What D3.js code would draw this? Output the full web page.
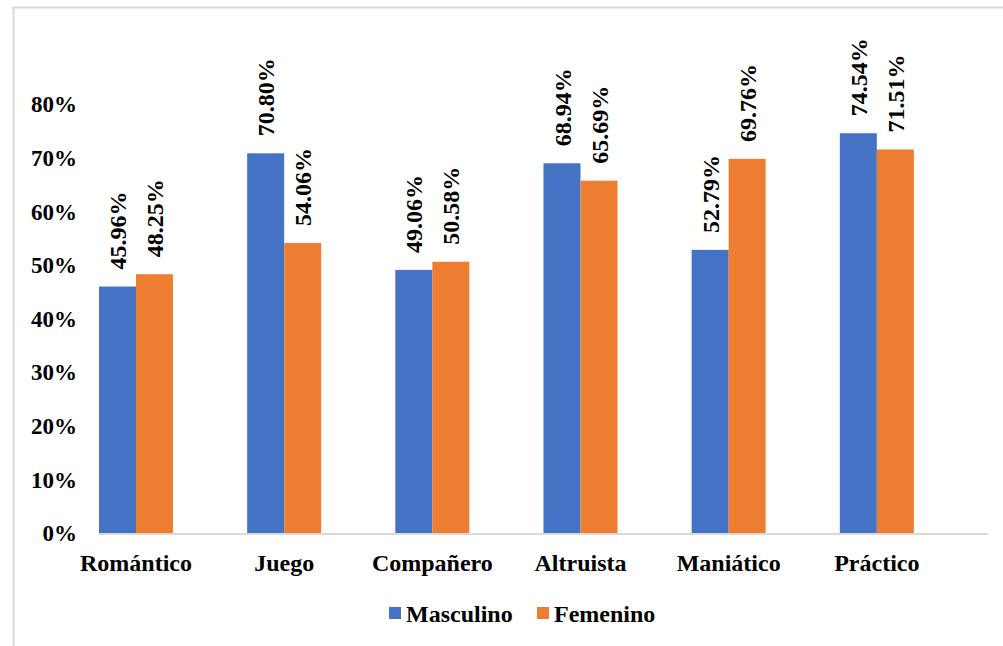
<!DOCTYPE html>
<html><head><meta charset="utf-8">
<script src="https://cdn.jsdelivr.net/npm/d3@7"></script>
<style>body{margin:0;background:#fff}svg{display:block}
svg text{font-family:"Liberation Serif","Times New Roman",serif;font-weight:bold}</style>
</head><body>
<svg id="c" width="1003" height="646"></svg>
<script>
const categories = ["Romántico","Juego","Compañero","Altruista","Maniático","Práctico"];
const seriesNames = ["Masculino","Femenino"];
const masculino = [45.96,70.80,49.06,68.94,52.79,74.54];
const femenino = [48.25,54.06,50.58,65.69,69.76,71.51];
const yTicks = [0,10,20,30,40,50,60,70,80];
const colors = ["#4472C4","#ED7D31"];

const svg = d3.select("#c");
svg.append("rect").attr("x",13.5).attr("y",7.5).attr("width",1100).attr("height",700)
  .attr("fill","#fff").attr("stroke","#d9d9d9").attr("stroke-width",2);

const left=99, right=988, y0=533;
const y = d3.scaleLinear().domain([0,90]).range([y0, y0-90*5.363]);
const x = d3.scaleBand().domain(categories).range([left,right]);
const barW = 37;

svg.append("g").selectAll("text").data(yTicks).join("text")
  .attr("x",77).attr("y",d=>y(d)).attr("dy","0.36em").attr("text-anchor","end")
  .attr("font-size",23)
  .text(d=>d+"%");

const data = categories.map((c,i)=>({c, vals:[masculino[i],femenino[i]]}));
const g = svg.append("g");
data.forEach(d=>{
  d.vals.forEach((v,j)=>{
    const bx = x(d.c) + j*barW;
    g.append("rect").attr("x",bx).attr("y",y(v)).attr("width",barW).attr("height",y(0)-y(v))
      .attr("fill",colors[j]);
    const cx = bx + barW/2, ty = y(v)-17;
    g.append("text").attr("transform",`translate(${cx},${ty}) rotate(-90)`)
      .attr("text-anchor","start").attr("dy","0.36em")
      .attr("font-size",24)
      .text(v.toFixed(2)+"%");
  });
});

svg.append("line").attr("x1",left).attr("x2",right).attr("y1",y0+1).attr("y2",y0+1)
  .attr("stroke","#d9d9d9").attr("stroke-width",2);

svg.append("g").selectAll("text").data(categories).join("text")
  .attr("x",d=>x(d)+barW).attr("y",562).attr("dy","0.36em").attr("text-anchor","middle")
  .attr("font-size",24)
  .text(d=>d);

const legX=[389,537];
seriesNames.forEach((s,i)=>{
  svg.append("rect").attr("x",legX[i]).attr("y",607).attr("width",12).attr("height",12).attr("fill",colors[i]);
  svg.append("text").attr("x",legX[i]+17).attr("y",613).attr("dy","0.36em")
    .attr("font-size",24).text(s);
});
</script>
</body></html>
